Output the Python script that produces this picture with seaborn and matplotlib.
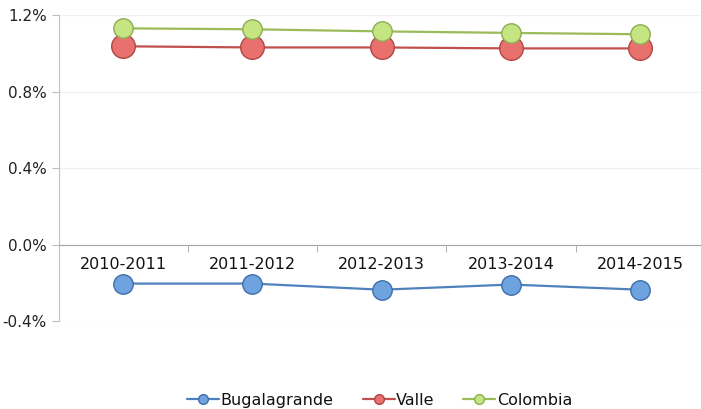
import pandas as pd
import seaborn as sns
import matplotlib.pyplot as plt
from matplotlib.ticker import FuncFormatter

periods = ["2010-2011", "2011-2012", "2012-2013", "2013-2014", "2014-2015"]
bugalagrande = [-0.204, -0.204, -0.236, -0.209, -0.236]
valle = [1.037, 1.031, 1.031, 1.026, 1.026]
colombia = [1.131, 1.126, 1.115, 1.107, 1.100]

series = [
    ("Bugalagrande", bugalagrande, "#4F81BD", "#6FA3E0", "#3F6FA8", 14),
    ("Valle", valle, "#C0504D", "#E8716E", "#B04744", 17),
    ("Colombia", colombia, "#9BBB59", "#C5E482", "#8EAC52", 14),
]

sns.set_style("white")
plt.rcParams["font.family"] = ["DejaVu Sans"]

fig = plt.figure(figsize=(7.01, 4.09), dpi=100)
ax = fig.add_axes([0.0835, 0.215, 0.9165, 0.748])

for name, vals, line_c, face_c, edge_c, ms in series:
    df = pd.DataFrame({"x": range(len(periods)), "y": vals})
    sns.lineplot(data=df, x="x", y="y", ax=ax, color=line_c, linewidth=1.6,
                 marker="o", markersize=ms, markerfacecolor=face_c,
                 markeredgecolor=edge_c, markeredgewidth=1, label=name)

ax.set_xlim(-0.5, 4.47)
ax.set_ylim(-0.4, 1.2)
ax.set_yticks([-0.4, 0.0, 0.4, 0.8, 1.2])
ax.yaxis.set_major_formatter(FuncFormatter(lambda v, p: f"{v:.1f}%"))
ax.set_xticks(range(len(periods)))
ax.set_xticklabels(periods)
ax.set_xticks([0.5, 1.5, 2.5, 3.5], minor=True)
ax.set_xlabel("")
ax.set_ylabel("")

ax.grid(axis="y", color="#F0F0F0", linewidth=1)
ax.set_axisbelow(True)
for s in ["top", "right"]:
    ax.spines[s].set_visible(False)
ax.spines["left"].set_color("#BFBFBF")
ax.spines["bottom"].set_color("#A6A6A6")
ax.spines["bottom"].set_position(("data", 0))

ax.tick_params(axis="x", which="major", length=0, pad=9, labelsize=11.5, labelcolor="#111111")
ax.tick_params(axis="x", which="minor", length=5, color="#A6A6A6", bottom=True)
ax.tick_params(axis="y", length=5, color="#BFBFBF", left=True, labelsize=11, labelcolor="#222222")

leg = ax.legend(loc="lower center", bbox_to_anchor=(0.5, -0.33), ncol=3, frameon=False,
                fontsize=11.5, handlelength=2.0, handletextpad=0.1, columnspacing=1.8)
for h in leg.legend_handles:
    h.set_markersize(7)
for t in leg.get_texts():
    t.set_color("#111111")

fig.savefig("out.png", dpi=100)
